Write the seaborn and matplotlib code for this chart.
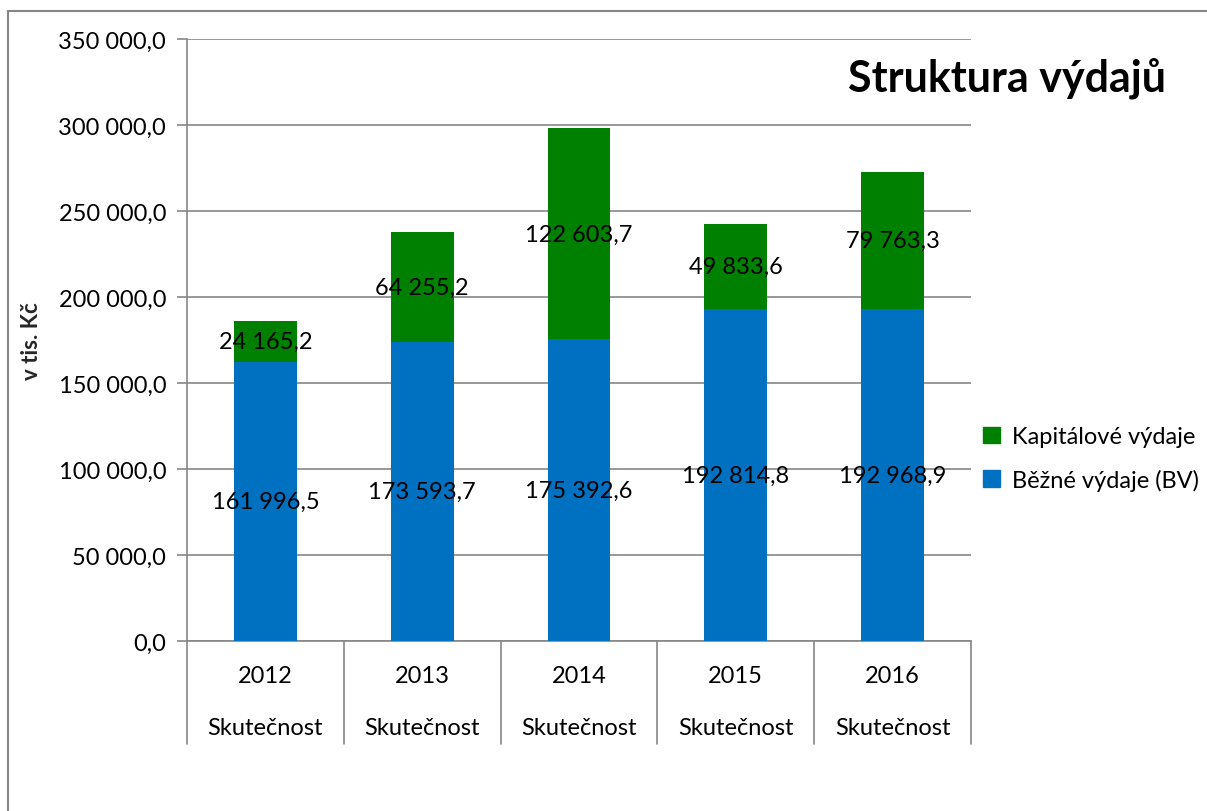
import matplotlib
matplotlib.use("Agg")
import matplotlib.pyplot as plt
import matplotlib.transforms as mtransforms
from matplotlib.patches import Rectangle
import pandas as pd
import seaborn as sns

# data (v tis. Kč)
years = ["2012", "2013", "2014", "2015", "2016"]
bezne = [161996.5, 173593.7, 175392.6, 192814.8, 192968.9]
kapitalove = [24165.2, 64255.2, 122603.7, 49833.6, 79763.3]
yticks = [0, 50000, 100000, 150000, 200000, 250000, 300000, 350000]

blue = "#0070C0"
green = "#008000"
grid_col = "#868686"

def fmt(v, dec=1):
    s = f"{v:,.{dec}f}"
    return s.replace(",", " ").replace(".", ",")

df = pd.DataFrame({"rok": years, "bezne": bezne, "kapitalove": kapitalove})
df["celkem"] = df["bezne"] + df["kapitalove"]

sns.set_style("white")
plt.rcParams["font.family"] = ["Lato", "DejaVu Sans"]
plt.rcParams["text.color"] = "black"
plt.rcParams["ytick.color"] = "black"

fs = 17

fig = plt.figure(figsize=(12.07, 8.12), dpi=100)
ax = fig.add_axes([0.1549, 0.2094, 0.8045 - 0.1549, 0.9507 - 0.2094])

# outer chart frame
fig.patches.append(Rectangle((8 / 1207, -0.05), 1.2, 1.05 - 12 / 812,
                             transform=fig.transFigure, fill=False,
                             edgecolor=grid_col, lw=1.5))

# stacked bars: total in green, running part in blue on top
sns.barplot(data=df, x="rok", y="celkem", color=green, width=0.4,
            saturation=1, ax=ax, zorder=3, linewidth=0)
sns.barplot(data=df, x="rok", y="bezne", color=blue, width=0.4,
            saturation=1, ax=ax, zorder=3, linewidth=0)

for i, (b, k) in enumerate(zip(bezne, kapitalove)):
    ax.text(i, b / 2, fmt(b), ha="center", va="center", fontsize=fs, zorder=5)
    ax.text(i, b + k / 2, fmt(k), ha="center", va="center", fontsize=fs, zorder=5)

ax.set_ylim(0, 350000)
ax.set_xlim(-0.5, len(years) - 0.5)
ax.set_yticks(yticks)
ax.set_yticklabels([fmt(v) for v in yticks], fontsize=fs)
ax.yaxis.grid(True, color=grid_col, lw=1.2, zorder=0)
ax.tick_params(axis="y", length=7, color=grid_col, width=1.2, pad=8, left=True,
               labelcolor="black")
ax.set_xticks([])
ax.set_xlabel("")
ax.set_ylabel("v tis. Kč", fontsize=16, fontweight="bold", labelpad=12)

for side in ["top", "right"]:
    ax.spines[side].set_visible(False)
for side in ["left", "bottom"]:
    ax.spines[side].set_color(grid_col)
    ax.spines[side].set_linewidth(1.2)

# two-level category axis
trans = mtransforms.blended_transform_factory(ax.transData, ax.transAxes)
for i, y in enumerate(years):
    ax.text(i, -0.058, y, transform=trans, ha="center", va="center", fontsize=fs)
    ax.text(i, -0.143, "Skutečnost", transform=trans, ha="center", va="center", fontsize=fs)
for i in range(len(years) + 1):
    ax.plot([i - 0.5, i - 0.5], [0, -0.171], transform=trans, color=grid_col,
            lw=1.2, clip_on=False)

fig.text(1166 / 1207, 1 - 78 / 812, "Struktura výdajů", ha="right",
         va="center", fontsize=31, fontweight="bold")

# legend
handles = [Rectangle((0, 0), 1, 1, color=green), Rectangle((0, 0), 1, 1, color=blue)]
fig.legend(handles, ["Kapitálové výdaje", "Běžné výdaje (BV)"],
           loc="center left", bbox_to_anchor=(0.797, 0.434), frameon=False,
           fontsize=fs, handlelength=0.7, handleheight=0.7, handletextpad=0.5,
           labelspacing=0.9)

fig.savefig("out.png", dpi=100)
